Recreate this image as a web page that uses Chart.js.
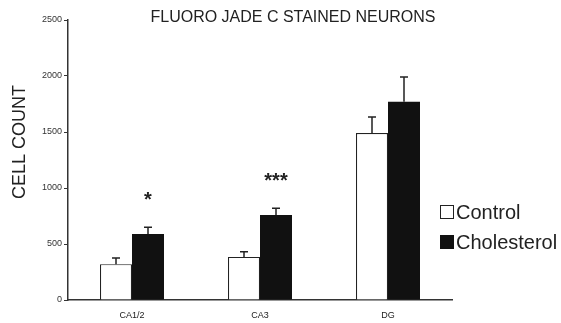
<!DOCTYPE html>
<html>
<head>
<meta charset="utf-8">
<script src="https://cdn.jsdelivr.net/npm/chart.js@4/dist/chart.umd.min.js"></script>
<style>
html,body{margin:0;padding:0;background:#fff;}
canvas{display:block;}
</style>
</head>
<body>
<canvas id="c" width="561" height="323"></canvas>
<script>
const categories = ['CA1/2', 'CA3', 'DG'];
const controlValues = [320, 385, 1490];
const controlErrors = [55, 45, 145];
const cholesterolValues = [590, 760, 1770];
const cholesterolErrors = [60, 60, 220];
const significance = ['*', '***', ''];
const yTicks = [0, 500, 1000, 1500, 2000, 2500];
const chartTitle = 'FLUORO JADE C STAINED NEURONS';
const yTitle = 'CELL COUNT';
const seriesNames = ['Control', 'Cholesterol'];

const errorsBySeries = [controlErrors, cholesterolErrors];

const overlay = {
  id: 'overlay',
  afterDatasetsDraw(chart) {
    const ctx = chart.ctx;
    const y = chart.scales.y;
    ctx.save();
    ctx.strokeStyle = '#222';
    ctx.lineWidth = 1.5;
    chart.data.datasets.forEach((ds, di) => {
      const meta = chart.getDatasetMeta(di);
      meta.data.forEach((el, i) => {
        const top = y.getPixelForValue(ds.data[i] + errorsBySeries[di][i]);
        ctx.beginPath();
        ctx.moveTo(el.x, el.y);
        ctx.lineTo(el.x, top);
        ctx.moveTo(el.x - 4, top);
        ctx.lineTo(el.x + 4, top);
        ctx.stroke();
      });
    });
    const meta1 = chart.getDatasetMeta(1);
    ctx.fillStyle = '#222';
    ctx.font = 'bold 20px "Liberation Sans", Arial, sans-serif';
    ctx.textAlign = 'center';
    ctx.textBaseline = 'middle';
    meta1.data.forEach((el, i) => {
      if (!significance[i]) return;
      const top = y.getPixelForValue(cholesterolValues[i] + cholesterolErrors[i]);
      ctx.fillText(significance[i], el.x, top - 27);
    });
    ctx.font = '16px "Liberation Sans", Arial, sans-serif';
    ctx.fillStyle = '#222';
    ctx.textAlign = 'center';
    ctx.fillText(chartTitle, 293, 18);
    ctx.save();
    ctx.translate(20, 142);
    ctx.rotate(-Math.PI / 2);
    ctx.font = '18px "Liberation Sans", Arial, sans-serif';
    ctx.fillText(yTitle, 0, 0);
    ctx.restore();
    ctx.font = '20px "Liberation Sans", Arial, sans-serif';
    ctx.textAlign = 'left';
    const lx = 440;
    const rows = [212, 242];
    rows.forEach((ry, k) => {
      ctx.lineWidth = 1;
      if (k === 0) {
        ctx.fillStyle = '#fff';
        ctx.fillRect(lx + 0.5, ry - 6.5, 13, 13);
        ctx.strokeStyle = '#222';
        ctx.strokeRect(lx + 0.5, ry - 6.5, 13, 13);
      } else {
        ctx.fillStyle = '#111';
        ctx.fillRect(lx, ry - 7, 14, 14);
      }
      ctx.fillStyle = '#222';
      ctx.fillText(seriesNames[k], lx + 16, ry + 1);
    });
    ctx.restore();
  }
};

new Chart(document.getElementById('c'), {
  type: 'bar',
  data: {
    labels: categories,
    datasets: [
      { label: seriesNames[0], data: controlValues, backgroundColor: '#fff', borderColor: '#222', borderWidth: 1.2, barPercentage: 1, categoryPercentage: 0.5 },
      { label: seriesNames[1], data: cholesterolValues, backgroundColor: '#111', borderColor: '#111', borderWidth: 0, barPercentage: 1, categoryPercentage: 0.5 }
    ]
  },
  options: {
    responsive: false,
    animation: false,
    layout: { padding: { left: 0, top: 20, right: 109, bottom: 0 } },
    plugins: { legend: { display: false }, title: { display: false }, tooltip: { enabled: false } },
    scales: {
      x: {
        grid: { display: true, drawOnChartArea: false, drawTicks: false, color: '#333' },
        border: { color: '#333', width: 1.5 },
        ticks: { color: '#222', font: { family: '"Liberation Sans", Arial, sans-serif', size: 9 }, padding: 10 },
        afterFit(s) { s.height = 23; }
      },
      y: {
        min: 0, max: 2500,
        afterBuildTicks(s) { s.ticks = yTicks.map(v => ({ value: v })); },
        grid: { display: true, drawOnChartArea: false, drawTicks: true, tickLength: 4, color: '#333' },
        border: { color: '#333', width: 1.5 },
        ticks: { color: '#333', font: { family: '"Liberation Sans", Arial, sans-serif', size: 9 }, padding: 2, callback: v => String(v) },
        afterFit(s) { s.width = 68; }
      }
    }
  },
  plugins: [overlay]
});
</script>
</body>
</html>
